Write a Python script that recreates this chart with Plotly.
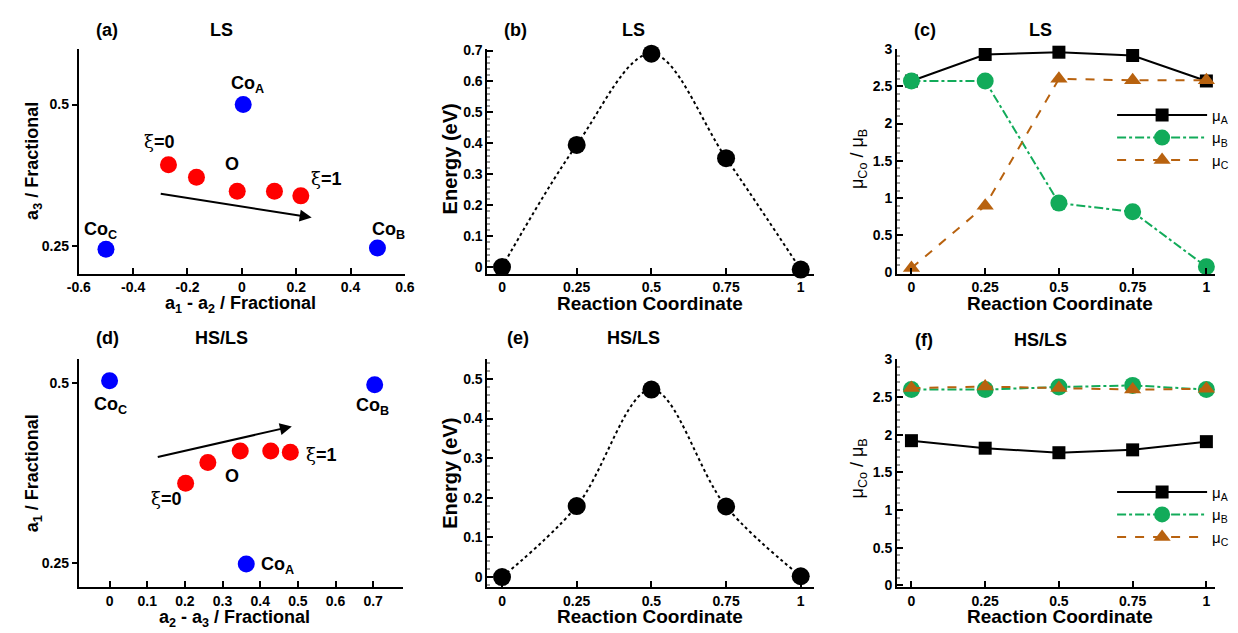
import plotly.graph_objects as go

W, H = 1238, 633
FONT = "Liberation Sans"

# ---------------- data ----------------
# panel (a) LS geometry
a_co_x = [0.005, 0.499, -0.5]
a_co_y = [0.5, 0.247, 0.245]
a_o_x = [-0.27, -0.167, -0.017, 0.12, 0.217]
a_o_y = [0.394, 0.372, 0.347, 0.347, 0.339]
a_arrow = [-0.304, 0.343, 0.257, 0.301]

# panel (d) HS/LS geometry
d_co_x = [0.363, 0.704, 0.0]
d_co_y = [0.249, 0.498, 0.5035]
d_o_x = [0.202, 0.261, 0.347, 0.428, 0.48]
d_o_y = [0.361, 0.390, 0.406, 0.406, 0.404]
d_arrow = [0.124, 0.397, 0.484, 0.440]

# reaction coordinate
rc = [0, 0.25, 0.5, 0.75, 1]
rc_ticks = ["0", "0.25", "0.5", "0.75", "1"]

# energies
e_ls = [0.0, 0.395, 0.690, 0.352, -0.008]
e_hsls = [0.0, 0.179, 0.473, 0.178, 0.002]

# magnetic moments
mu_a_ls = [2.57, 2.926, 2.957, 2.913, 2.571]
mu_b_ls = [2.571, 2.571, 0.932, 0.815, 0.078]
mu_c_ls = [0.06, 0.897, 2.60, 2.58, 2.58]
mu_a_hsls = [1.922, 1.822, 1.762, 1.80, 1.909]
mu_b_hsls = [2.60, 2.60, 2.634, 2.656, 2.60]
mu_c_hsls = [2.62, 2.64, 2.62, 2.60, 2.61]

GREEN = "#12ab5a"
BROWN = "#b8620f"

fig = go.Figure()

def px_x(p):
    return p / W

def px_y(p):
    return 1 - p / H

# ---------------- geometry panels ----------------
for xa, ya, cox, coy, ox, oy in [("x", "y", a_co_x, a_co_y, a_o_x, a_o_y),
                                 ("x4", "y4", d_co_x, d_co_y, d_o_x, d_o_y)]:
    fig.add_trace(go.Scatter(x=cox, y=coy, mode="markers", xaxis=xa, yaxis=ya,
                             marker=dict(color="#0000ff", size=17), showlegend=False))
    fig.add_trace(go.Scatter(x=ox, y=oy, mode="markers", xaxis=xa, yaxis=ya,
                             marker=dict(color="#ff0000", size=17), showlegend=False))

# ---------------- energy panels ----------------
for xa, ya, e in [("x2", "y2", e_ls), ("x5", "y5", e_hsls)]:
    fig.add_trace(go.Scatter(x=rc, y=e, mode="lines", xaxis=xa, yaxis=ya,
                             line=dict(color="black", width=2, dash="dot", shape="spline", smoothing=1.0),
                             showlegend=False))
    fig.add_trace(go.Scatter(x=rc, y=e, mode="markers", xaxis=xa, yaxis=ya,
                             marker=dict(color="black", size=18), showlegend=False, cliponaxis=False))

# ---------------- moment panels ----------------
for xa, ya, lg, A, B, C in [("x3", "y3", "legend", mu_a_ls, mu_b_ls, mu_c_ls),
                            ("x6", "y6", "legend2", mu_a_hsls, mu_b_hsls, mu_c_hsls)]:
    fig.add_trace(go.Scatter(x=rc, y=A, mode="lines+markers", xaxis=xa, yaxis=ya, legend=lg,
                             name="μ<sub>A</sub>", cliponaxis=False,
                             line=dict(color="black", width=2),
                             marker=dict(symbol="square", size=13, color="black")))
    fig.add_trace(go.Scatter(x=rc, y=B, mode="lines+markers", xaxis=xa, yaxis=ya, legend=lg,
                             name="μ<sub>B</sub>", cliponaxis=False,
                             line=dict(color=GREEN, width=2, dash="dashdot"),
                             marker=dict(symbol="circle", size=17, color=GREEN)))
    fig.add_trace(go.Scatter(x=rc, y=C, mode="lines+markers", xaxis=xa, yaxis=ya, legend=lg,
                             name="μ<sub>C</sub>", cliponaxis=False,
                             line=dict(color=BROWN, width=2, dash="dash"),
                             marker=dict(symbol="triangle-up", size=15, color=BROWN)))

# ---------------- axes ----------------
TICKFONT = dict(family=FONT, size=14, color="black")
base = dict(showline=True, linecolor="black", linewidth=2, showgrid=False, zeroline=False,
            ticklen=6, tickwidth=1.5, tickcolor="black", tickfont=TICKFONT)

def bold_ticks(vals):
    return ["<b>%s</b>" % v for v in vals]

colx = [(68, 400), (484, 817), (901, 1225)]
rowy = [(272, 42), (593, 360)]

def xdom(c):
    return [px_x(colx[c][0]), px_x(colx[c][1])]

def ydom(r):
    return [px_y(rowy[r][0]), px_y(rowy[r][1])]

a_xt = [-0.6, -0.4, -0.2, 0, 0.2, 0.4, 0.6]
a_xl = ["-0.6", "-0.4", "-0.2", "0", "0.2", "0.4", "0.6"]
d_xt = [0, 0.1, 0.2, 0.3, 0.4, 0.5, 0.6, 0.7]
d_xl = ["0", "0.1", "0.2", "0.3", "0.4", "0.5", "0.6", "0.7"]
geo_yt = [0.25, 0.5]
geo_yl = ["0.25", "0.5"]
eb_yt = [0, 0.1, 0.2, 0.3, 0.4, 0.5, 0.6, 0.7]
eb_yl = ["0", "0.1", "0.2", "0.3", "0.4", "0.5", "0.6", "0.7"]
mu_yt = [0, 0.5, 1, 1.5, 2, 2.5, 3]
mu_yl = ["0", "0.5", "1", "1.5", "2", "2.5", "3"]

layout = {}
# (a)
layout["xaxis"] = dict(base, domain=[px_x(68), px_x(400)], range=[-0.6, 0.6], anchor="y",
                       tickvals=a_xt, ticktext=bold_ticks(a_xl), ticks="inside")
layout["yaxis"] = dict(base, domain=ydom(0), range=[0.202, 0.598], anchor="x",
                       tickvals=geo_yt, ticktext=bold_ticks(geo_yl), ticks="outside", ticklen=5)
# (d)
layout["xaxis4"] = dict(base, domain=[px_x(68), px_x(398)], range=[-0.0817, 0.779], anchor="y4",
                        tickvals=d_xt, ticktext=bold_ticks(d_xl), ticks="inside")
layout["yaxis4"] = dict(base, domain=ydom(1), range=[0.217, 0.533], anchor="x4",
                        tickvals=geo_yt, ticktext=bold_ticks(geo_yl), ticks="outside", ticklen=5)
minor_e = dict(ticks="inside", dtick=0.02, tick0=0, ticklen=3, tickcolor="#999", showgrid=False)
minor_m = dict(ticks="inside", dtick=0.1, tick0=0, ticklen=3, tickcolor="#999", showgrid=False)
for n, row, rng, yt, yl, mn, xr in [(2, 0, [-0.021, 0.705], eb_yt, eb_yl, minor_e, [-0.049, 1.046]),
                                    (5, 1, [-0.025, 0.549], eb_yt[:6], eb_yl[:6], minor_e, [-0.049, 1.046]),
                                    (3, 0, [-0.013, 3.0], mu_yt, mu_yl, minor_m, [-0.049, 1.03]),
                                    (6, 1, [-0.02, 3.0], mu_yt, mu_yl, minor_m, [-0.049, 1.03])]:
    col = 1 if n in (2, 5) else 2
    layout["xaxis%d" % n] = dict(base, domain=xdom(col), range=xr, anchor="y%d" % n,
                                 tickvals=rc, ticktext=bold_ticks(rc_ticks), ticks="inside")
    layout["yaxis%d" % n] = dict(base, domain=ydom(row), range=rng, anchor="x%d" % n,
                                 tickvals=yt, ticktext=bold_ticks(yl), ticks="inside", minor=mn)

fig.update_layout(**layout)

# ---------------- annotations ----------------
ann = []

def txt(x, y, s, size=18, xref="paper", yref="paper", angle=0, bold=True):
    ann.append(dict(x=x, y=y, xref=xref, yref=yref, text=("<b>%s</b>" % s) if bold else s,
                    showarrow=False, textangle=angle, xanchor="center", yanchor="middle",
                    font=dict(family=FONT, size=size, color="black")))

# panel titles
for lab, x, tl, tx, y in [("(a)", 97, "LS", 213, 23), ("(b)", 513, "LS", 633, 23),
                           ("(c)", 930, "LS", 1047, 23), ("(d)", 97, "HS/LS", 213, 338),
                           ("(e)", 515, "HS/LS", 633, 338), ("(f)", 928, "HS/LS", 1047, 340)]:
    txt(px_x(x), px_y(y), lab, 18)
    txt(px_x(tx), px_y(y), tl, 18)

# axis titles
txt(px_x(233), px_y(304), "a<sub>1</sub> - a<sub>2</sub> / Fractional", 18)
txt(px_x(22), px_y(157), "a<sub>3</sub> / Fractional", 18, angle=-90)
txt(px_x(227), px_y(625), "a<sub>2</sub> - a<sub>3</sub> / Fractional", 18)
txt(px_x(22), px_y(477), "a<sub>1</sub> / Fractional", 18, angle=-90)
for yy in (303, 623):
    txt(px_x(650), px_y(yy), "Reaction Coordinate", 19)
    txt(px_x(1067), px_y(yy), "Reaction Coordinate", 19)
txt(px_x(446), px_y(155), "Energy (eV)", 20, angle=-90)
txt(px_x(446), px_y(477), "Energy (eV)", 20, angle=-90)
txt(px_x(862), px_y(155), "μ<sub>Co</sub> / μ<sub>B</sub>", 18, angle=-90, bold=False)
txt(px_x(862), px_y(472), "μ<sub>Co</sub> / μ<sub>B</sub>", 18, angle=-90, bold=False)

# geometry labels (data coords)
XI = "<span style=\"font-family:'DejaVu Serif'\">ξ</span>"
XI0 = XI + "<b>=0</b>"
XI1 = XI + "<b>=1</b>"
for xr, yr, items in [("x", "y", [(0.0217, 0.536, "<b>Co<sub>A</sub></b>"), (-0.52, 0.2776, "<b>Co<sub>C</sub></b>"),
                                  (0.5386, 0.2776, "<b>Co<sub>B</sub></b>"), (-0.3036, 0.4345, XI0),
                                  (-0.036, 0.3948, "<b>O</b>"), (0.311, 0.369, XI1)]),
                      ("x4", "y4", [(0.002, 0.4696, "<b>Co<sub>C</sub></b>"), (0.698, 0.4678, "<b>Co<sub>B</sub></b>"),
                                    (0.445, 0.2467, "<b>Co<sub>A</sub></b>"), (0.150, 0.3405, XI0),
                                    (0.325, 0.3713, "<b>O</b>"), (0.5626, 0.4012, XI1)])]:
    for x, y, s in items:
        txt(x, y, s, 18, xref=xr, yref=yr, bold=False)

# arrows
for xr, yr, (x0, y0, x1, y1) in [("x", "y", a_arrow), ("x4", "y4", d_arrow)]:
    ann.append(dict(x=x1, y=y1, ax=x0, ay=y0, xref=xr, yref=yr, axref=xr, ayref=yr,
                    text="", showarrow=True, arrowhead=2, arrowsize=1.2, arrowwidth=2,
                    arrowcolor="black", standoff=0, startstandoff=0))

fig.update_layout(annotations=ann)

leg = dict(bgcolor="rgba(0,0,0,0)", font=dict(family=FONT, size=15, color="black"),
           itemwidth=90, xanchor="left", yanchor="top", tracegroupgap=0)
fig.update_layout(
    width=W, height=H, margin=dict(l=0, r=0, t=0, b=0),
    paper_bgcolor="white", plot_bgcolor="white",
    font=dict(family=FONT, size=14, color="black"),
    legend=dict(leg, x=px_x(1120), y=px_y(93)),
    legend2=dict(leg, x=px_x(1120), y=px_y(479)),
)

fig.write_html("out.html")
